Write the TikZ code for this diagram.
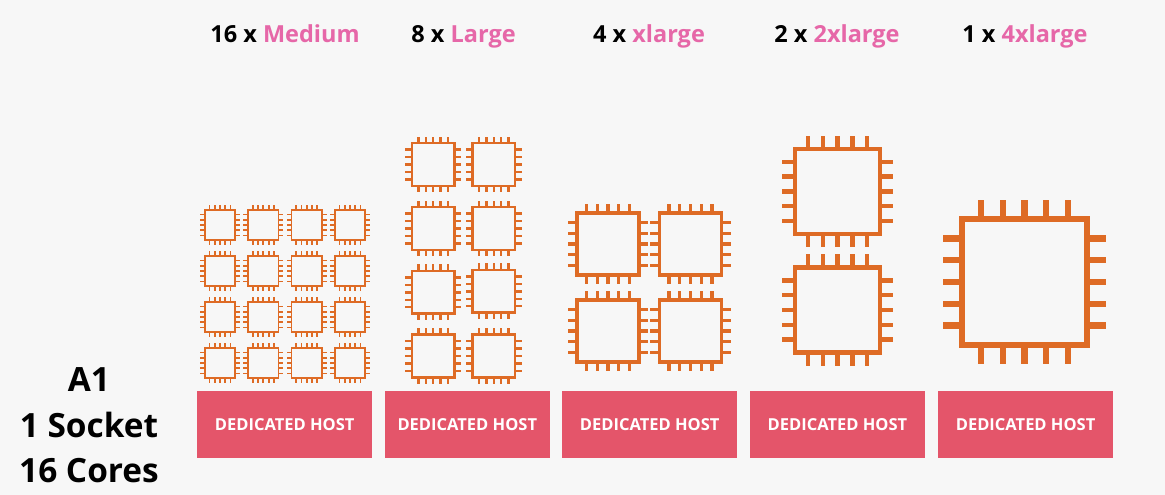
\documentclass[tikz,border=0pt]{standalone}
\usepackage{fontspec}
\setmainfont{Open Sans}
\definecolor{figpaper}{HTML}{F7F7F7}
\definecolor{figorange}{HTML}{DE6B25}
\definecolor{figred}{HTML}{E4556A}
\definecolor{figpink}{HTML}{E667A8}

\begin{document}
\begin{tikzpicture}[
  x=1pt, y=-1pt,
  host/.style={rectangle, fill=figred, text=white, minimum height=67pt,
               inner sep=0pt, font=\fontsize{16.5}{19}\selectfont\bfseries},
  hdr/.style={anchor=base, inner sep=0pt, font=\fontsize{23.5}{28}\selectfont\bfseries},
  spec/.style={anchor=base, inner sep=0pt, font=\fontsize{33.4}{38}\selectfont\bfseries},
  cpu/.style={scale=#1, line width=#1*0.09pt+0.4pt, draw=figorange},
  chip/.pic={
    \draw[pic actions] (-0.95,-0.95) rectangle (0.95,0.95);
    \foreach \k in {-2,...,2} {
      \draw[pic actions] (\k*0.33,-0.95) -- (\k*0.33,-1.24)
                         (\k*0.33,0.95) -- (\k*0.33,1.24)
                         (-0.95,\k*0.33) -- (-1.24,\k*0.33)
                         (0.95,\k*0.33) -- (1.24,\k*0.33);
    }
  }]

  \fill[figpaper] (0,0) rectangle (1165,495);
  \useasboundingbox (0,0) rectangle (1165,495);

  % ---- headers ---------------------------------------------------------
  \node[hdr] (medium) at (285,42.3) {16 x \textcolor{figpink}{Medium}};
  \node[hdr] (large) at (463.5,42.3) {8 x \textcolor{figpink}{Large}};
  \node[hdr] (xlarge) at (649,42.3) {4 x \textcolor{figpink}{xlarge}};
  \node[hdr] (xxlarge) at (837,42.3) {2 x \textcolor{figpink}{2xlarge}};
  \node[hdr] (xxxxlarge) at (1025,42.3) {1 x \textcolor{figpink}{4xlarge}};

  % ---- chips -----------------------------------------------------------
  \foreach \x in {220,263.3,306.7,350} {
    \foreach \y in {225,271,317,363} {
      \pic[cpu=16] at (\x,\y) {chip};
    }
  }
  \foreach \x/\y in {433.2/164.5, 433.2/228.5, 433.2/292.3, 433.2/356,
                     493.8/164.5, 493.8/228.5, 493.8/291.3, 493.8/356} {
    \pic[cpu=22.5] at (\x,\y) {chip};
  }
  \foreach \x/\y in {608/244, 690.5/244, 608/331, 690.5/331} {
    \pic[cpu=32.5] at (\x,\y) {chip};
  }
  \foreach \y in {191.3,310} {
    \pic[cpu=44.8] at (837.5,\y) {chip};
  }
  \pic[cpu=66] at (1024.5,282) {chip};

  % ---- hosts -----------------------------------------------------------
  \node[host, minimum width=175.5pt] (host1) at (284.7,424.2) {DEDICATED HOST};
  \node[host, minimum width=165pt] (host2) at (467.3,424.2) {DEDICATED HOST};
  \node[host, minimum width=175.5pt] (host3) at (649.7,424.2) {DEDICATED HOST};
  \node[host, minimum width=175.5pt] (host4) at (837.5,424.2) {DEDICATED HOST};
  \node[host, minimum width=175.5pt] (host5) at (1025.6,424.2) {DEDICATED HOST};

  % ---- left label ------------------------------------------------------
  \node[spec] (family) at (89,391.7) {A1};
  \node[spec] (socket) at (89,437) {1 Socket};
  \node[spec] (cores) at (89,482.7) {16 Cores};
\end{tikzpicture}
\end{document}
